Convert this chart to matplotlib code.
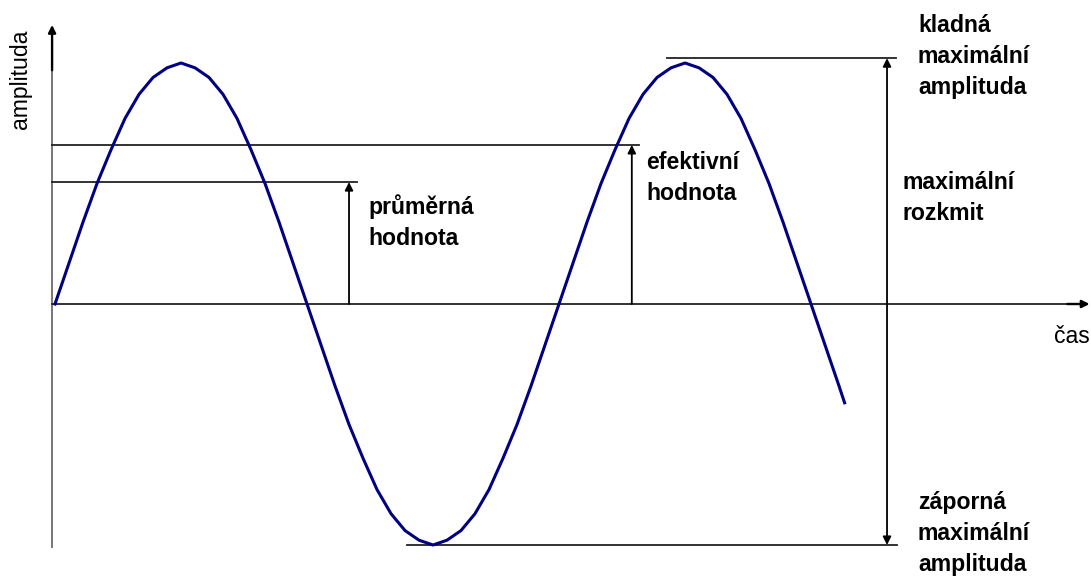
import matplotlib.pyplot as plt

# phase of the wave (degrees) and amplitude
phase = [0, 10, 20, 30, 40, 50, 60, 70, 80, 90, 100, 110, 120, 130, 140, 150, 160, 170,
         180, 190, 200, 210, 220, 230, 240, 250, 260, 270, 280, 290, 300, 310, 320, 330, 340, 350,
         360, 370, 380, 390, 400, 410, 420, 430, 440, 450, 460, 470, 480, 490, 500, 510, 520, 530,
         540, 550, 560, 564]
amplitude = [0.00, 0.17, 0.34, 0.50, 0.64, 0.77, 0.87, 0.94, 0.98, 1.00, 0.98, 0.94, 0.87, 0.77, 0.64, 0.50, 0.34, 0.17,
             0.00, -0.17, -0.34, -0.50, -0.64, -0.77, -0.87, -0.94, -0.98, -1.00, -0.98, -0.94, -0.87, -0.77, -0.64, -0.50, -0.34, -0.17,
             0.00, 0.17, 0.34, 0.50, 0.64, 0.77, 0.87, 0.94, 0.98, 1.00, 0.98, 0.94, 0.87, 0.77, 0.64, 0.50, 0.34, 0.17,
             0.00, -0.17, -0.34, -0.41]

# reference levels
avg_level = 0.506      # průměrná hodnota
rms_level = 0.66       # efektivní hodnota
pos_peak = 1.02        # kladná maximální amplituda
neg_peak = -1.0        # záporná maximální amplituda

plt.rcParams['font.family'] = ['Liberation Sans', 'DejaVu Sans']

fig = plt.figure(figsize=(10.91, 5.76), dpi=100)
ax = fig.add_axes([0, 0, 1, 1])
ax.set_xlim(-39.3, 740)
ax.set_ylim(-1.1286, 1.2614)
ax.axis('off')

line_kw = dict(color='#222222', lw=1.3)
arrow_kw = dict(arrowstyle='-|>', color='black', lw=1.3, mutation_scale=12,
                shrinkA=0, shrinkB=0)
axis_arrow = dict(arrowstyle='-|>', color='black', lw=1.7, mutation_scale=11,
                  shrinkA=0, shrinkB=0)

# axes
ax.plot([-2.1, -2.1], [-1.008, 0.97], color='#777777', lw=1.4)
ax.annotate('', xy=(-2.1, 1.158), xytext=(-2.1, 0.97), arrowprops=axis_arrow)
ax.plot([-2.1, 723], [0, 0], **line_kw)
ax.annotate('', xy=(739, 0), xytext=(723, 0), arrowprops=axis_arrow)

# reference lines
ax.plot([-2.1, 215.7], [avg_level, avg_level], **line_kw)
ax.plot([-2.1, 417], [rms_level, rms_level], **line_kw)
ax.plot([437, 601], [pos_peak, pos_peak], **line_kw)
ax.plot([251.4, 601.4], [neg_peak, neg_peak], **line_kw)

ax.annotate('', xy=(210, avg_level), xytext=(210, 0), arrowprops=arrow_kw)
ax.annotate('', xy=(412, rms_level), xytext=(412, 0), arrowprops=arrow_kw)
ax.annotate('', xy=(594.3, pos_peak), xytext=(594.3, neg_peak),
            arrowprops=dict(arrowstyle='<|-|>', color='black', lw=1.3, mutation_scale=12,
                            shrinkA=0, shrinkB=0))

# the wave
ax.plot(phase, amplitude, color='#000080', lw=2.2)

# labels (y = baseline of the last line)
txt = dict(fontsize=16.6, fontweight='bold', ha='left', va='baseline', linespacing=1.45)
ax.text(223.6, 0.245, 'průměrná\nhodnota', **txt)
ax.text(422.1, 0.432, 'efektivní\nhodnota', **txt)
ax.text(605.7, 0.349, 'maximální\nrozkmit', **txt)
ax.text(616.4, 0.871, 'kladná\nmaximální\namplituda', **txt)
ax.text(616.4, -1.108, 'záporná\nmaximální\namplituda', **txt)

ax.text(-25, 0.934, 'amplituda', fontsize=16.6, rotation=90, ha='center', va='center')
ax.text(713.6, -0.162, 'čas', fontsize=16.6, ha='left', va='baseline')

fig.savefig('out.png', dpi=100)
